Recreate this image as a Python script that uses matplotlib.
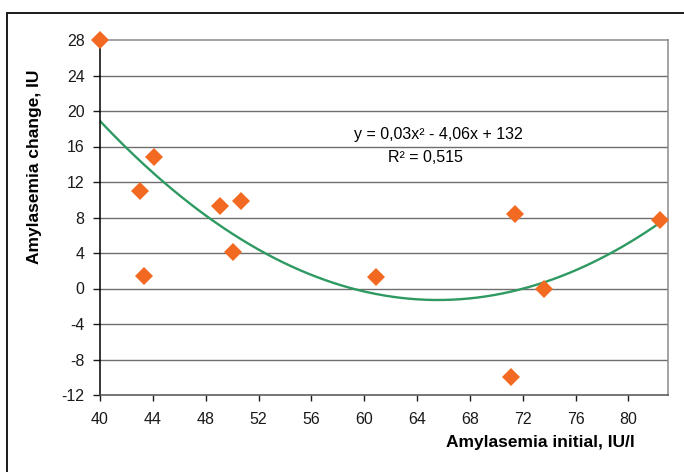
import matplotlib
matplotlib.use("Agg")
import matplotlib.pyplot as plt
import numpy as np
from matplotlib.patches import Rectangle

# amylasemia initial (IU/l) vs change (IU)
amy_initial = [40.0, 43.0, 43.3, 44.1, 49.1, 50.1, 50.7, 60.9, 71.1, 71.4, 73.6, 82.4]
amy_change = [28.0, 11.0, 1.4, 14.8, 9.3, 4.1, 9.9, 1.3, -10.0, 8.4, -0.1, 7.7]

x_ticks = [40, 44, 48, 52, 56, 60, 64, 68, 72, 76, 80]
y_ticks = [-12, -8, -4, 0, 4, 8, 12, 16, 20, 24, 28]

equation = "y = 0,03x\u00b2 - 4,06x + 132"
r_squared = "R\u00b2 = 0,515"

plt.rcParams["font.family"] = ["Liberation Sans", "DejaVu Sans"]
plt.rcParams["axes.unicode_minus"] = False

fig = plt.figure(figsize=(6.84, 4.72), dpi=100)
ax = fig.add_axes([100 / 684, 1 - 395 / 472, 568 / 684, 355 / 472])

# outer chart frame (cut off at right and bottom)
fig.patches.append(Rectangle((7 / 684, -0.1), 1.2, 1 - 13 / 472 + 0.1,
                             transform=fig.transFigure, fill=False,
                             edgecolor="#1a1a1a", lw=1.4))

for y in y_ticks[1:-1]:
    ax.axhline(y, color="#6e6e6e", lw=1.0, zorder=1)

# quadratic trendline fitted like Excel does
coef = np.polyfit(amy_initial, amy_change, 2)
xs = np.linspace(min(amy_initial), max(amy_initial), 200)
ax.plot(xs, np.polyval(coef, xs), color="#2e9a62", lw=1.7, zorder=2)

ax.plot(amy_initial, amy_change, linestyle="none", marker="D", ms=9.5,
        color="#f26a21", markeredgewidth=0, zorder=3, clip_on=False)

ax.set_xlim(40, 83)
ax.set_ylim(-12, 28)
ax.set_xticks(x_ticks)
ax.set_yticks(y_ticks)

ax.spines["left"].set_color("#000000")
ax.spines["bottom"].set_color("#505050")
ax.spines["top"].set_color("#8a8a8a")
ax.spines["right"].set_color("#8a8a8a")
for s in ax.spines.values():
    s.set_linewidth(1.1)

ax.tick_params(axis="y", direction="out", length=5, width=1, pad=6,
               labelsize=11.5, colors="#1a1a1a")
ax.tick_params(axis="x", direction="out", length=4, width=1, pad=8,
               labelsize=11.5, colors="#1a1a1a")

fig.text(438 / 684, 1 - 135 / 472, equation, fontsize=11.5, ha="center", va="center")
fig.text(425 / 684, 1 - 157 / 472, r_squared, fontsize=11.5, ha="center", va="center")

fig.text(540 / 684, 1 - 443 / 472, "Amylasemia initial, IU/l", fontsize=12.5,
         fontweight="bold", ha="center", va="center")
fig.text(35 / 684, 1 - 167 / 472, "Amylasemia change, IU", fontsize=12.5,
         fontweight="bold", ha="center", va="center", rotation=90)

fig.savefig("out.png", dpi=100)
